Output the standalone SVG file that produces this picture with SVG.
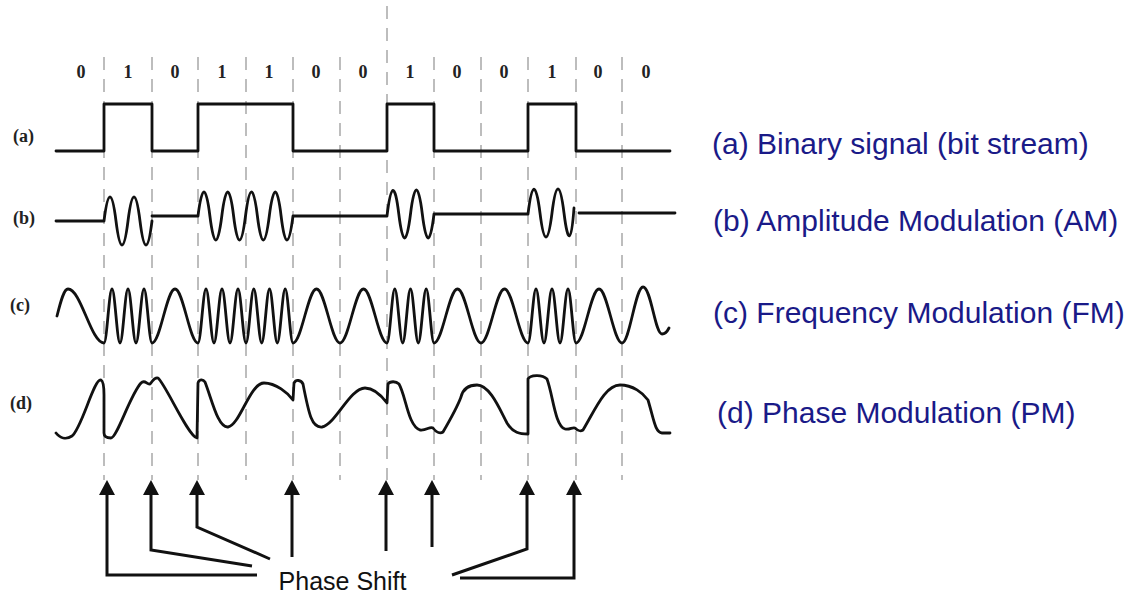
<svg xmlns="http://www.w3.org/2000/svg" width="1128" height="597" viewBox="0 0 1128 597">
<style>
.grid{stroke:#9a9a9a;stroke-width:1.3;stroke-dasharray:13 9;fill:none}
.wave{stroke:#111;stroke-width:2.8;fill:none;stroke-linejoin:round;stroke-linecap:round}
.bit{font-family:"Liberation Serif",serif;font-size:18px;font-weight:bold;fill:#222;text-anchor:middle}
.tag{font-family:"Liberation Serif",serif;font-size:18px;font-weight:bold;fill:#222}
.desc{font-family:"Liberation Sans",Arial,sans-serif;font-size:30px;fill:#1a1a88}
.conn{stroke:#111;stroke-width:3;fill:none}
.ps{font-family:"Liberation Sans",Arial,sans-serif;font-size:25px;fill:#111;text-anchor:middle}
</style>
<defs>
<marker id="ah" viewBox="0 0 15 16" refX="5" refY="8" markerWidth="15" markerHeight="16" markerUnits="userSpaceOnUse" orient="auto">
<path d="M0,0 L15,8 L0,16 z" fill="#111"/>
</marker>
</defs>
<rect width="1128" height="597" fill="#fff"/>
<g id="grid">
<line class="grid" x1="104" y1="57" x2="104" y2="480"/>
<line class="grid" x1="152" y1="57" x2="152" y2="480"/>
<line class="grid" x1="198" y1="57" x2="198" y2="480"/>
<line class="grid" x1="246" y1="57" x2="246" y2="480"/>
<line class="grid" x1="293" y1="57" x2="293" y2="480"/>
<line class="grid" x1="340" y1="57" x2="340" y2="480"/>
<line class="grid" x1="387" y1="6" x2="387" y2="480"/>
<line class="grid" x1="434" y1="57" x2="434" y2="480"/>
<line class="grid" x1="481" y1="57" x2="481" y2="480"/>
<line class="grid" x1="528" y1="57" x2="528" y2="480"/>
<line class="grid" x1="576" y1="57" x2="576" y2="480"/>
<line class="grid" x1="622" y1="57" x2="622" y2="480"/>
</g>
<g id="bits">
<text class="bit" x="81" y="78">0</text>
<text class="bit" x="128" y="78">1</text>
<text class="bit" x="175" y="78">0</text>
<text class="bit" x="222" y="78">1</text>
<text class="bit" x="269" y="78">1</text>
<text class="bit" x="316" y="78">0</text>
<text class="bit" x="363" y="78">0</text>
<text class="bit" x="410" y="78">1</text>
<text class="bit" x="457" y="78">0</text>
<text class="bit" x="504" y="78">0</text>
<text class="bit" x="552" y="78">1</text>
<text class="bit" x="598" y="78">0</text>
<text class="bit" x="646" y="78">0</text>
</g>
<g id="signal-a">
<text class="tag" x="13" y="142">(a)</text>
<path class="wave" d="M56,151 H104 V104 H152 V151 H198 V104 H293 V151 H387 V104 H434 V151 H528 V104 H576 V151 H670"/>
</g>
<g id="signal-b">
<text class="tag" x="13" y="224">(b)</text>
<path class="wave" d="M56,221 H104 Q110,173 116,221 T128,221 T140,221 T152,221 M152,216 H198 Q204,168 209.9,216 T221.8,216 T233.6,216 T245.5,216 T257.4,216 T269.3,216 T281.1,216 T293,216 H387 Q393,166 398.8,214 T410.5,214 T422.3,214 T434,214 H528 Q534,165 540,213 T552,213 T564,213 T574,208 M579,213 H675"/>
</g>
<g id="signal-c">
<text class="tag" x="10" y="311">(c)</text>
<path class="wave" d="M57,316 C61,300 64,289 68,289 C81,289 91,343 104,343
C106.9,343 109.1,289 112,289 C114.9,289 117.1,343 120,343 C122.9,343 125.1,289 128,289 C130.9,289 133.1,343 136,343 C138.9,343 141.1,289 144,289 C146.9,289 149.1,343 152,343
C160.3,343 166.7,289 175,289 C183.3,289 189.7,343 198,343
C200.9,343 203.1,289 206,289 C208.9,289 211.1,343 214,343 C216.9,343 219.1,289 222,289 C224.9,289 227.1,343 230,343 C232.9,343 235.1,289 238,289 C240.9,289 243.1,343 246,343
C248.8,343 251,289 253.8,289 C256.6,289 258.9,343 261.7,343 C264.5,343 266.7,289 269.5,289 C272.3,289 274.5,343 277.3,343 C280.1,343 282.4,289 285.2,289 C288,289 290.2,343 293,343
C301.5,343 308,289 316.5,289 C325,289 331.5,343 340,343
C348.5,343 355,289 363.5,289 C372,289 378.5,343 387,343
C389.8,343 392,289 394.8,289 C397.6,289 399.9,343 402.7,343 C405.5,343 407.7,289 410.5,289 C413.3,289 415.5,343 418.3,343 C421.1,343 423.4,289 426.2,289 C429,289 431.2,343 434,343
C442.5,343 449,289 457.5,289 C466,289 472.5,343 481,343
C489.5,343 496,289 504.5,289 C513,289 519.5,343 528,343
C530.9,343 533.1,289 536,289 C538.9,289 541.1,343 544,343 C546.9,343 549.1,289 552,289 C554.9,289 557.1,343 560,343 C562.9,343 565.1,289 568,289 C570.9,289 573.1,343 576,343
C584.3,343 590.7,289 599,289 C607.3,289 613.7,343 622,343
C629.6,343 635.4,287 643,287 C651,287 655,334 662,334 Q666,334 669,328"/>
</g>
<g id="signal-d">
<text class="tag" x="10" y="409">(d)</text>
<path class="wave" d="M56,433 C60,438 66,440 72,436 C82,428 94,378 101,380 C103,381 104,386 104,395 L104,433 C104,437 107,438 111,438
C117,438 130,395 141,383 C145,379 147,385 150,384 C153,381 154,377 158,378 C166,385 188,436 197,438 L198,383 C199,379 203,379 205,382
C212,400 218,428 228,427 C240,425 250,383 264,383 C276,383 288,393 293,400 L294,383 C296,379 301,380 303,384
C309,415 312,428 322,427 C335,425 350,388 365,388 C373,388 381,395 387,403 L388,384 C390,381 396,381 399,384
C406,396 408,426 420,430 C426,431 430,426 433,428 C436,432 440,434 443,432 C450,420 458,405 461,397 C463,389 468,385 477,385
C490,385 500,410 507,423 C513,433 520,434 528,434 L528,379 C530,375 542,374 547,379
C553,395 555,426 565,429 C570,430 572,427 575,428 C578,431 580,432 583,430 C595,410 605,385 620,385
C633,385 643,393 648,400 C654,420 655,432 662,433 L670,433"/>
</g>
<g id="labels">
<text class="desc" x="712" y="154">(a) Binary signal (bit stream)</text>
<text class="desc" x="713" y="231">(b) Amplitude Modulation (AM)</text>
<text class="desc" x="713" y="323">(c) Frequency Modulation (FM)</text>
<text class="desc" x="717" y="423">(d) Phase Modulation (PM)</text>
</g>
<g id="connectors">
<path class="conn" marker-end="url(#ah)" d="M257,575 H107 V490"/>
<path class="conn" marker-end="url(#ah)" d="M252,566 L151,550 V490"/>
<path class="conn" marker-end="url(#ah)" d="M270,559 L197,527 V490"/>
<path class="conn" marker-end="url(#ah)" d="M292,557 V490"/>
<path class="conn" marker-end="url(#ah)" d="M386,551 V490"/>
<path class="conn" marker-end="url(#ah)" d="M432,547 V490"/>
<path class="conn" marker-end="url(#ah)" d="M452,575 L527,549 V490"/>
<path class="conn" marker-end="url(#ah)" d="M460,578 H574 V490"/>
</g>
<g id="phase-shift">
<text class="ps" x="342.5" y="590">Phase Shift</text>
</g>
</svg>
